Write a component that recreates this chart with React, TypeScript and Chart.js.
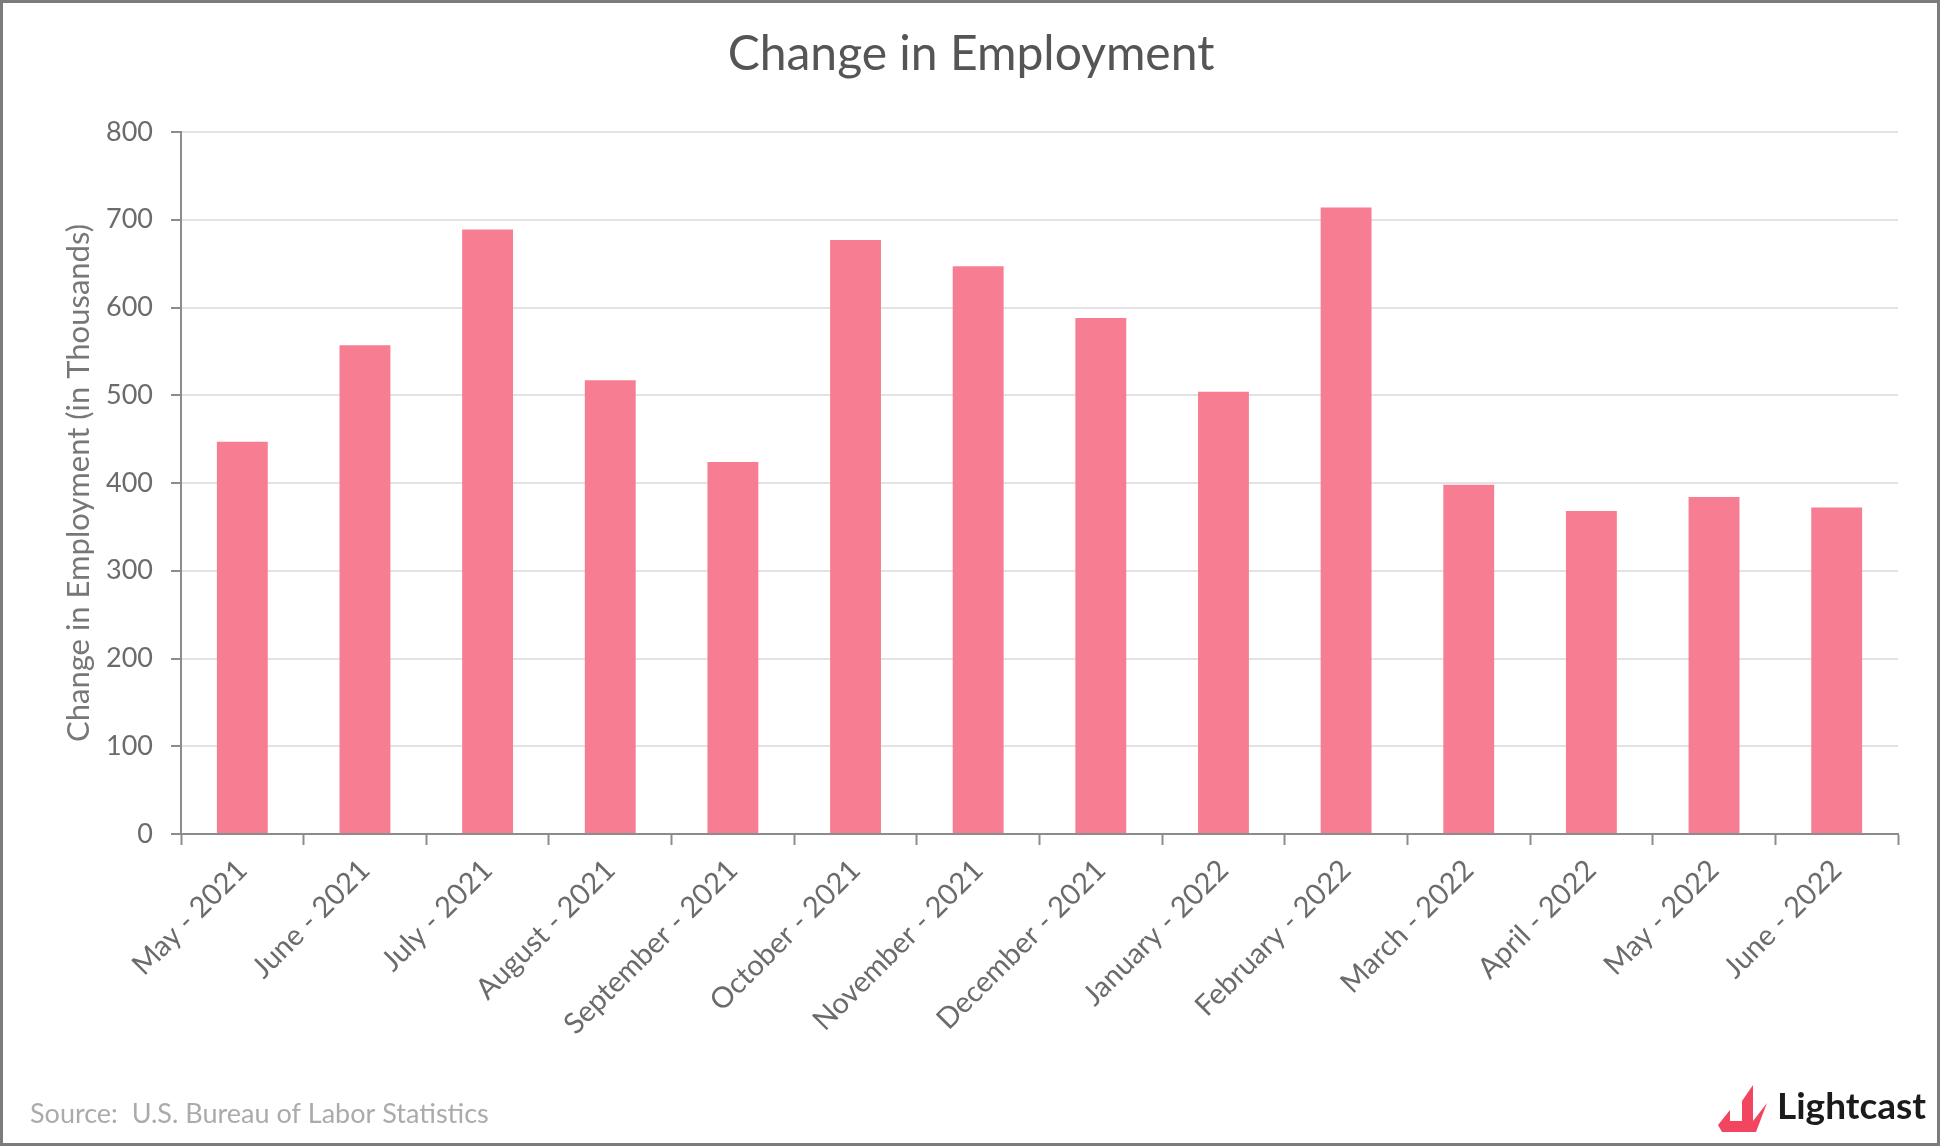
import React, { useEffect, useRef } from "react";
import { Chart, registerables } from "chart.js";

Chart.register(...registerables);

const categories = [
  "May - 2021",
  "June - 2021",
  "July - 2021",
  "August - 2021",
  "September - 2021",
  "October - 2021",
  "November - 2021",
  "December - 2021",
  "January - 2022",
  "February - 2022",
  "March - 2022",
  "April - 2022",
  "May - 2022",
  "June - 2022",
];

const employmentChange = [447, 557, 689, 517, 424, 677, 647, 588, 504, 714, 398, 368, 384, 372];

const yMin = 0;
const yMax = 800;
const yStep = 100;

const titleText = "Change in Employment";
const yAxisTitle = "Change in Employment (in Thousands)";
const sourceText = "Source:  U.S. Bureau of Labor Statistics";
const logoText = "Lightcast";

const W = 1940;
const H = 1146;
const FONT = "Lato, 'Open Sans', sans-serif";

const decorPlugin = {
  id: "decor",
  beforeDraw(chart: any) {
    const ctx = chart.ctx;
    ctx.save();
    ctx.fillStyle = "#ffffff";
    ctx.fillRect(0, 0, W, H);
    ctx.restore();
  },
  afterDraw(chart: any) {
    const ctx = chart.ctx;
    ctx.save();
    // title
    ctx.fillStyle = "#555555";
    ctx.font = `400 48px ${FONT}`;
    ctx.textAlign = "center";
    ctx.textBaseline = "middle";
    ctx.fillText(titleText, 971, 55);
    // source
    ctx.fillStyle = "#ababab";
    ctx.font = `400 27px ${FONT}`;
    ctx.textAlign = "left";
    ctx.fillText(sourceText, 30, 1114);
    // logo icon
    ctx.fillStyle = "#f2455f";
    ctx.beginPath();
    ctx.moveTo(1742, 1101);
    ctx.lineTo(1753, 1085);
    ctx.lineTo(1753, 1121);
    ctx.lineTo(1742, 1121);
    ctx.closePath();
    ctx.fill();
    ctx.beginPath();
    ctx.moveTo(1718, 1125);
    ctx.lineTo(1730, 1110);
    ctx.lineTo(1730, 1121);
    ctx.lineTo(1753, 1121);
    ctx.lineTo(1767, 1103);
    ctx.lineTo(1756, 1132);
    ctx.lineTo(1722, 1132);
    ctx.closePath();
    ctx.fill();
    // logo text
    ctx.fillStyle = "#1b1b1b";
    ctx.font = `700 37px ${FONT}`;
    ctx.textAlign = "left";
    ctx.fillText(logoText, 1777, 1107);
    // border
    ctx.strokeStyle = "#7c7c7c";
    ctx.lineWidth = 3;
    ctx.strokeRect(1.5, 1.5, W - 3, H - 3);
    ctx.restore();
  },
};

export default function App() {
  const ref = useRef<HTMLCanvasElement | null>(null);

  useEffect(() => {
    if (!ref.current) return;
    const chart = new Chart(ref.current, {
      type: "bar",
      data: {
        labels: categories,
        datasets: [
          {
            label: titleText,
            data: employmentChange,
            backgroundColor: "#f77e92",
            borderWidth: 0,
            categoryPercentage: 1,
            barPercentage: 0.415,
          },
        ],
      },
      options: {
        responsive: false,
        animation: false,
        devicePixelRatio: 1,
        layout: { padding: { top: 132, right: 42, bottom: 0, left: 0 } },
        plugins: {
          legend: { display: false },
          title: { display: false },
          tooltip: { enabled: false },
        },
        scales: {
          x: {
            offset: true,
            grid: {
              offset: true,
              drawOnChartArea: false,
              drawTicks: true,
              tickLength: 11,
              tickColor: "#8c8c8c",
              tickWidth: 2,
            },
            border: { display: true, color: "#8c8c8c", width: 2 },
            ticks: {
              minRotation: 45,
              maxRotation: 45,
              autoSkip: false,
              color: "#6b6b6b",
              font: { family: FONT, size: 29 },
              padding: 8,
            },
            afterFit(scale: any) {
              scale.height = H - 834;
            },
          },
          y: {
            min: yMin,
            max: yMax,
            ticks: {
              stepSize: yStep,
              color: "#6b6b6b",
              font: { family: FONT, size: 27 },
              padding: 18,
            },
            grid: {
              color: "#e3e3e3",
              lineWidth: 2,
              drawTicks: true,
              tickLength: 10,
              tickColor: "#8c8c8c",
              tickWidth: 2,
            },
            border: { display: true, color: "#8c8c8c", width: 2 },
            title: {
              display: true,
              text: yAxisTitle,
              color: "#777777",
              font: { family: FONT, size: 31 },
              padding: { top: 60, bottom: 0 },
            },
            afterFit(scale: any) {
              scale.width = 181;
            },
          },
        },
      },
      plugins: [decorPlugin],
    });
    return () => chart.destroy();
  }, []);

  return (
    <div style={{ position: "fixed", left: 0, top: 0, width: W, height: H, background: "#fff" }}>
      <canvas ref={ref} width={W} height={H} style={{ display: "block", width: W, height: H }} />
    </div>
  );
}
